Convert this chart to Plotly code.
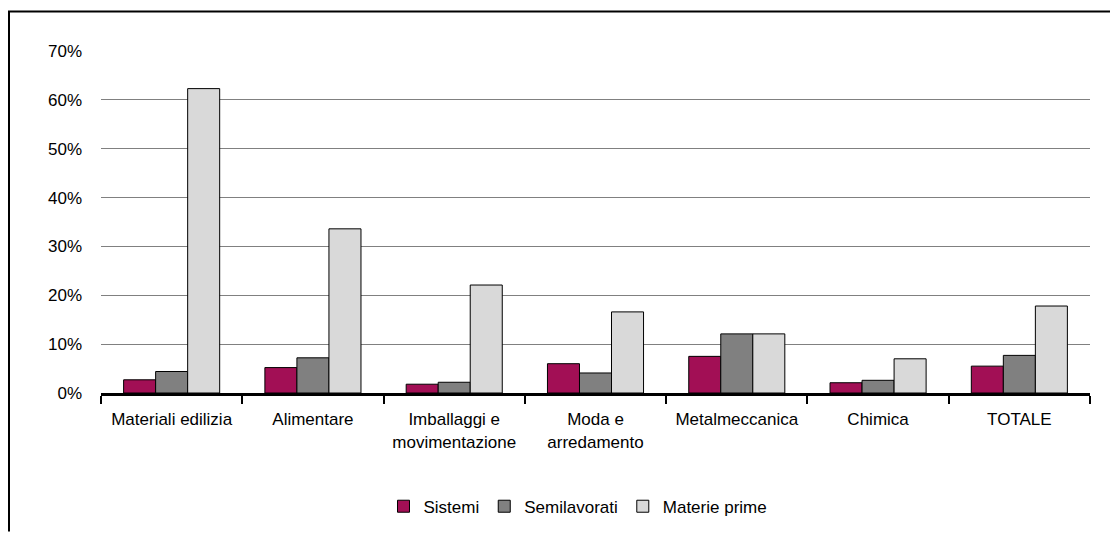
import plotly.graph_objects as go

# Quota di fornitori per settore e tipologia di fornitura
categories = [
    "Materiali edilizia",
    "Alimentare",
    "Imballaggi e<br>movimentazione",
    "Moda e<br>arredamento",
    "Metalmeccanica",
    "Chimica",
    "TOTALE",
]
sistemi = [0.027, 0.052, 0.018, 0.060, 0.075, 0.021, 0.055]
semilavorati = [0.044, 0.072, 0.022, 0.041, 0.121, 0.026, 0.077]
materie_prime = [0.623, 0.336, 0.221, 0.166, 0.121, 0.070, 0.178]
y_ticks = [0, 0.1, 0.2, 0.3, 0.4, 0.5, 0.6, 0.7]

FONT = "Liberation Sans, Arial, sans-serif"
series = [
    ("Sistemi", sistemi, "#A20F55"),
    ("Semilavorati", semilavorati, "#808080"),
    ("Materie prime", materie_prime, "#D9D9D9"),
]

fig = go.Figure()
for name, vals, color in series:
    fig.add_trace(
        go.Bar(
            name=name,
            x=categories,
            y=vals,
            marker=dict(color=color, line=dict(color="#000000", width=1)),
        )
    )

# the page body adds an 8px margin, so figure coords = screen - 8
W, H = 1110, 529
L, R, T, B = 93, 1082, 43, 389


def px(x):
    return (x - L) / (R - L)


def py(y):
    return (B - y) / (B - T)


fig.update_layout(
    width=W,
    height=H,
    margin=dict(l=L, r=W - R, t=T, b=H - B),
    paper_bgcolor="#ffffff",
    plot_bgcolor="#ffffff",
    font=dict(family=FONT, size=17, color="#000000"),
    barmode="group",
    bargap=0.32,
    bargroupgap=0,
    showlegend=True,
    legend=dict(
        orientation="h",
        x=px(570),
        y=py(504),
        xanchor="center",
        yanchor="middle",
        font=dict(family=FONT, size=17),
        itemwidth=30,
        traceorder="normal",
    ),
    xaxis=dict(
        showgrid=False,
        showline=True,
        linecolor="#000000",
        linewidth=3,
        ticks="outside",
        tickson="boundaries",
        ticklen=8,
        tickwidth=2,
        tickcolor="#000000",
        ticklabelstandoff=9,
        tickfont=dict(family=FONT, size=17),
        zeroline=False,
    ),
    yaxis=dict(
        range=[0, 0.7],
        tickvals=y_ticks,
        tickformat=".0%",
        showgrid=True,
        gridcolor="#808080",
        gridwidth=1,
        showline=False,
        zeroline=False,
        ticks="",
        ticklabelstandoff=18,
        tickfont=dict(family=FONT, size=17),
    ),
    shapes=[
        dict(type="line", xref="paper", yref="paper",
             x0=px(0), x1=px(W), y0=py(3), y1=py(3),
             line=dict(color="#000000", width=2)),
        dict(type="line", xref="paper", yref="paper",
             x0=px(1), x1=px(1), y0=py(3), y1=py(H),
             line=dict(color="#000000", width=2)),
    ],
)

fig.write_html("out.html")
